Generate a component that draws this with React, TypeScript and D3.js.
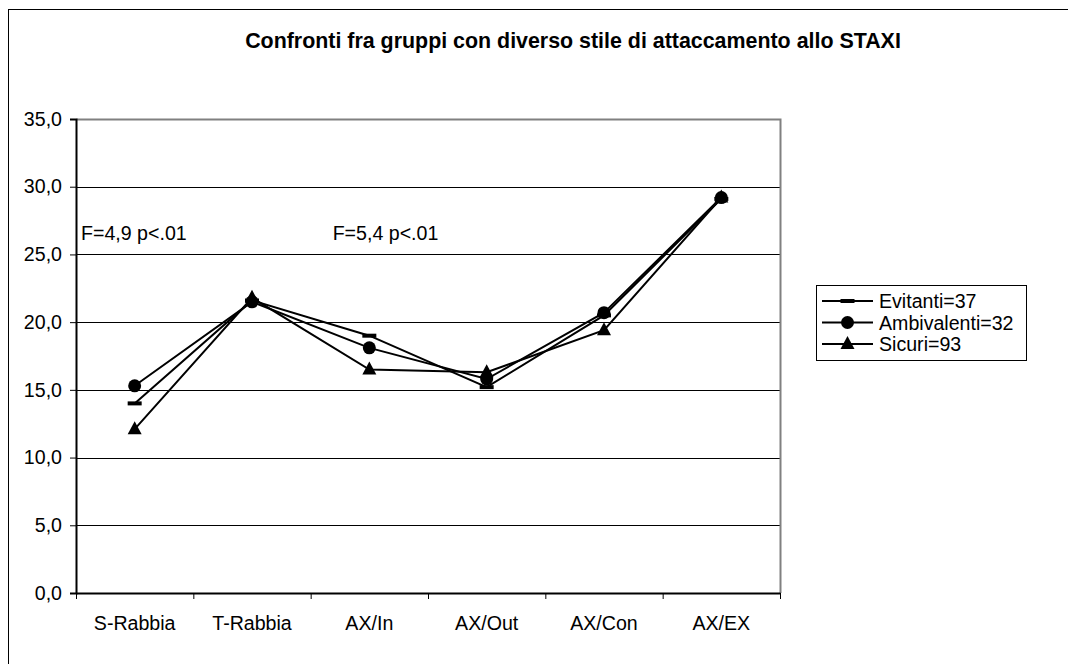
import React, { useEffect, useRef } from "react";
import * as d3 from "d3";

const categories = ["S-Rabbia", "T-Rabbia", "AX/In", "AX/Out", "AX/Con", "AX/EX"];
const evitanti = [14.0, 21.6, 19.0, 15.2, 20.5, 29.1];
const ambivalenti = [15.3, 21.5, 18.1, 15.8, 20.7, 29.2];
const sicuri = [12.1, 21.8, 16.5, 16.3, 19.4, 29.2];
const seriesNames = ["Evitanti=37", "Ambivalenti=32", "Sicuri=93"];
const yTicks = [0, 5, 10, 15, 20, 25, 30, 35];
const annotations = [
  { text: "F=4,9 p<.01", cat: "S-Rabbia", value: 26.1 },
  { text: "F=5,4 p<.01", cat: "AX/In", value: 26.1 },
];

const W = 1068;
const H = 664;

const App: React.FC = () => {
  const svgRef = useRef<SVGSVGElement>(null);

  useEffect(() => {
    if (!svgRef.current) return;
    const svg = d3.select(svgRef.current);
    svg.selectAll("*").remove();

    const font = "Liberation Sans, Arial, sans-serif";
    const fs = 19.6;
    const margin = { top: 119, left: 76, right: 288, bottom: 71 };
    const innerWidth = W - margin.left - margin.right;
    const innerHeight = H - margin.top - margin.bottom;

    svg.append("rect").attr("width", W).attr("height", H).attr("fill", "#fff");

    // outer frame
    svg.append("rect")
      .attr("x", 8.5).attr("y", 9.5)
      .attr("width", W).attr("height", H)
      .attr("fill", "none").attr("stroke", "#000").attr("stroke-width", 1);

    // title
    svg.append("text")
      .attr("x", 573).attr("y", 48)
      .attr("text-anchor", "middle")
      .attr("font-family", font).attr("font-size", 21.4).attr("font-weight", "bold")
      .text("Confronti fra gruppi con diverso stile di attaccamento allo STAXI");

    const g = svg.append("g").attr("transform", `translate(${margin.left}, ${margin.top})`);

    const x = d3.scaleBand().domain(categories).range([0, innerWidth]);
    const y = d3.scaleLinear().domain([0, 35]).range([innerHeight, 0]);
    const cx = (c: string) => (x(c) || 0) + x.bandwidth() / 2;

    // gridlines
    g.append("g").selectAll("line")
      .data(yTicks.filter(t => t > 0 && t < 35))
      .join("line")
      .attr("x1", 0).attr("x2", innerWidth)
      .attr("y1", d => Math.round(y(d)) + 0.5).attr("y2", d => Math.round(y(d)) + 0.5)
      .attr("stroke", "#000").attr("stroke-width", 1);

    // plot border top / right
    g.append("path")
      .attr("d", `M0.5,0.5H${innerWidth + 0.5}V${innerHeight}`)
      .attr("fill", "none").attr("stroke", "#808080").attr("stroke-width", 2);

    // y axis
    const yAxis = g.append("g")
      .call(d3.axisLeft(y).tickValues(yTicks).tickSize(6).tickFormat(d => d3.format(".1f")(d as number).replace(".", ",")));
    yAxis.select(".domain").attr("stroke", "#000").attr("stroke-width", 2);
    yAxis.selectAll("text").attr("font-family", font).attr("font-size", fs).attr("fill", "#000").attr("x", -14);

    // x axis
    const xAxis = g.append("g")
      .attr("transform", `translate(0, ${innerHeight})`)
      .call(d3.axisBottom(x).tickSize(0).tickSizeOuter(0));
    xAxis.select(".domain").attr("stroke", "#000").attr("stroke-width", 2);
    xAxis.selectAll("text").attr("font-family", font).attr("font-size", fs).attr("fill", "#000")
      .attr("y", 37).attr("dy", 0);
    xAxis.append("g").selectAll("line")
      .data(categories.concat([""]))
      .join("line")
      .attr("x1", (d, i) => i * x.bandwidth() + 0.5).attr("x2", (d, i) => i * x.bandwidth() + 0.5)
      .attr("y1", 0).attr("y2", 6)
      .attr("stroke", "#000");

    // annotations
    const annOffsets = [5, 22];
    annotations.forEach((a, i) => {
      g.append("text")
        .attr("x", (x(a.cat) || 0) + annOffsets[i])
        .attr("y", y(a.value))
        .attr("font-family", font).attr("font-size", fs)
        .text(a.text);
    });

    const allSeries = [evitanti, ambivalenti, sicuri];
    const line = d3.line<number>()
      .x((d, i) => cx(categories[i]))
      .y(d => y(d));

    const drawMarker = (sel: any, k: number, px: number, py: number) => {
      if (k === 0) {
        sel.append("rect").attr("x", px - 7).attr("y", py - 2).attr("width", 14).attr("height", 4).attr("fill", "#000");
      } else if (k === 1) {
        sel.append("circle").attr("cx", px).attr("cy", py).attr("r", 6.5).attr("fill", "#000");
      } else {
        sel.append("path")
          .attr("d", `M${px},${py - 8}L${px + 7},${py + 5}L${px - 7},${py + 5}Z`)
          .attr("fill", "#000");
      }
    };

    allSeries.forEach(s => {
      g.append("path")
        .datum(s)
        .attr("fill", "none").attr("stroke", "#000").attr("stroke-width", 2)
        .attr("d", line);
    });
    allSeries.forEach((s, k) => {
      const mg = g.append("g");
      s.forEach((v, i) => drawMarker(mg, k, cx(categories[i]), y(v)));
    });

    // legend
    const lg = svg.append("g").attr("transform", "translate(816, 285)");
    lg.append("rect")
      .attr("x", 0.5).attr("y", 0.5).attr("width", 210).attr("height", 75)
      .attr("fill", "#fff").attr("stroke", "#000");
    seriesNames.forEach((name, k) => {
      const yy = 16 + k * 21.5;
      lg.append("line").attr("x1", 6).attr("x2", 57).attr("y1", yy).attr("y2", yy)
        .attr("stroke", "#000").attr("stroke-width", 2);
      drawMarker(lg.append("g"), k, 31.5, yy);
      lg.append("text")
        .attr("x", 63).attr("y", yy + 7)
        .attr("font-family", font).attr("font-size", fs)
        .text(name);
    });
  }, []);

  return <svg ref={svgRef} width={W} height={H} style={{ display: "block", position: "absolute", left: 0, top: 0 }} />;
};

export default App;
